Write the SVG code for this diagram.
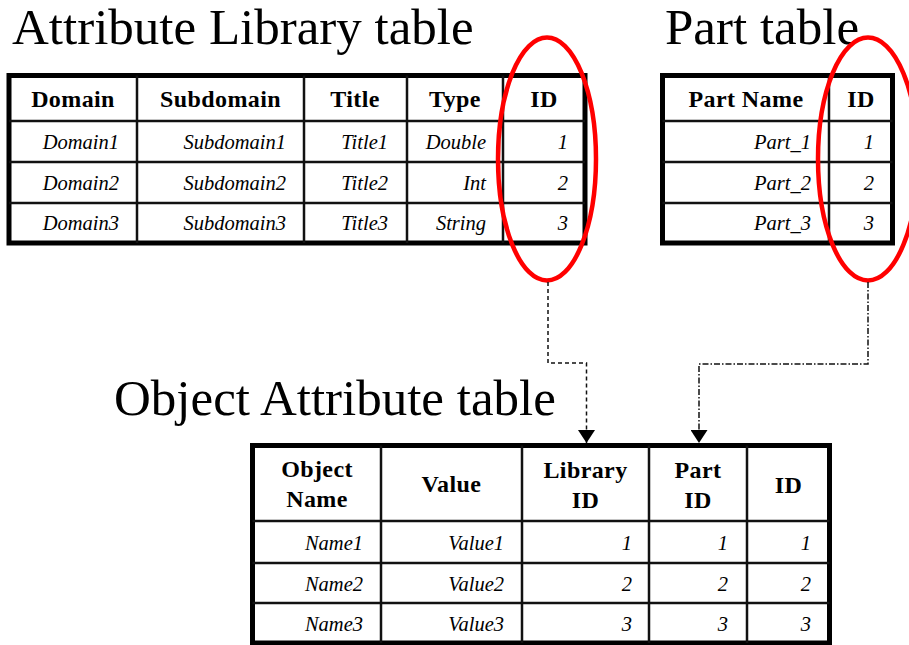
<svg xmlns="http://www.w3.org/2000/svg" width="909" height="645" viewBox="0 0 909 645">
<defs>
<style>
.title{font-family:"Liberation Serif","Times New Roman",serif;font-size:51px;fill:#000}
.hd{font-family:"Liberation Serif","Times New Roman",serif;font-size:24px;font-weight:bold;fill:#000;text-anchor:middle;letter-spacing:0.4px}
.cell{font-family:"Liberation Serif","Times New Roman",serif;font-size:20.5px;font-style:italic;fill:#000;text-anchor:end}
.outer{fill:#fff;stroke:#000;stroke-width:5}
.grid{stroke:#111;stroke-width:2.5;fill:none}
.oval{fill:none;stroke:#f00;stroke-width:4.5}
.conn{fill:none;stroke:#111;stroke-width:1.5}
</style>
<marker id="arr" viewBox="0 0 13 17" refX="13" refY="8.5" markerWidth="13" markerHeight="17" markerUnits="userSpaceOnUse" orient="auto">
<path d="M0,0 L13,8.5 L0,17 Z" fill="#000"/>
</marker>
</defs>
<rect width="909" height="645" fill="#fff"/>

<g id="attribute-library-table">
<text class="title" x="12" y="44">Attribute Library table</text>
<rect class="outer" x="9" y="75.5" width="576" height="167.5"/>
<path class="grid" d="M9,121H585M9,162H585M9,203H585M137,75.5V243M304,75.5V243M407,75.5V243M503,75.5V243"/>
<text class="hd" x="73" y="107">Domain</text>
<text class="hd" x="220.5" y="107">Subdomain</text>
<text class="hd" x="355" y="107">Title</text>
<text class="hd" x="455" y="107">Type</text>
<text class="hd" x="544" y="107">ID</text>
<text class="cell" x="119" y="149">Domain1</text>
<text class="cell" x="286" y="149">Subdomain1</text>
<text class="cell" x="388" y="149">Title1</text>
<text class="cell" x="486" y="149">Double</text>
<text class="cell" x="568" y="149">1</text>
<text class="cell" x="119" y="190">Domain2</text>
<text class="cell" x="286" y="190">Subdomain2</text>
<text class="cell" x="388" y="190">Title2</text>
<text class="cell" x="486" y="190">Int</text>
<text class="cell" x="568" y="190">2</text>
<text class="cell" x="119" y="230">Domain3</text>
<text class="cell" x="286" y="230">Subdomain3</text>
<text class="cell" x="388" y="230">Title3</text>
<text class="cell" x="486" y="230">String</text>
<text class="cell" x="568" y="230">3</text>
</g>

<g id="part-table">
<text class="title" x="665" y="44">Part table</text>
<rect class="outer" x="662.5" y="75.5" width="230" height="167.5"/>
<path class="grid" d="M662.5,121H892.5M662.5,162H892.5M662.5,203H892.5M829,75.5V243"/>
<text class="hd" x="746" y="107">Part Name</text>
<text class="hd" x="861" y="107">ID</text>
<text class="cell" x="811" y="149">Part_1</text>
<text class="cell" x="874" y="149">1</text>
<text class="cell" x="811" y="190">Part_2</text>
<text class="cell" x="874" y="190">2</text>
<text class="cell" x="811" y="230">Part_3</text>
<text class="cell" x="874" y="230">3</text>
</g>

<g id="object-attribute-table">
<text class="title" x="114" y="415">Object Attribute table</text>
<rect class="outer" x="252.5" y="445.5" width="577" height="197.5"/>
<path class="grid" d="M252.5,521H829.5M252.5,563H829.5M252.5,603H829.5M381,445.5V643M522,445.5V643M649,445.5V643M747,445.5V643"/>
<text class="hd" x="317" y="477">Object</text>
<text class="hd" x="317" y="507">Name</text>
<text class="hd" x="451.5" y="492">Value</text>
<text class="hd" x="585.5" y="478">Library</text>
<text class="hd" x="585.5" y="508">ID</text>
<text class="hd" x="698" y="478">Part</text>
<text class="hd" x="698" y="508">ID</text>
<text class="hd" x="788.5" y="493">ID</text>
<text class="cell" x="363" y="550">Name1</text>
<text class="cell" x="504" y="550">Value1</text>
<text class="cell" x="632" y="550">1</text>
<text class="cell" x="728" y="550">1</text>
<text class="cell" x="811" y="550">1</text>
<text class="cell" x="363" y="591">Name2</text>
<text class="cell" x="504" y="591">Value2</text>
<text class="cell" x="632" y="591">2</text>
<text class="cell" x="728" y="591">2</text>
<text class="cell" x="811" y="591">2</text>
<text class="cell" x="363" y="631">Name3</text>
<text class="cell" x="504" y="631">Value3</text>
<text class="cell" x="632" y="631">3</text>
<text class="cell" x="728" y="631">3</text>
<text class="cell" x="811" y="631">3</text>
</g>

<g id="highlights">
<ellipse class="oval" cx="547" cy="159" rx="49" ry="121.5"/>
<ellipse class="oval" cx="868" cy="159" rx="50" ry="121.5"/>
</g>

<g id="connectors">
<path class="conn" d="M548,282V363H586.5V443" stroke-dasharray="4 3" marker-end="url(#arr)"/>
<path class="conn" d="M868,282V364H699V443" stroke-dasharray="6 2 1.5 2" marker-end="url(#arr)"/>
</g>
</svg>
